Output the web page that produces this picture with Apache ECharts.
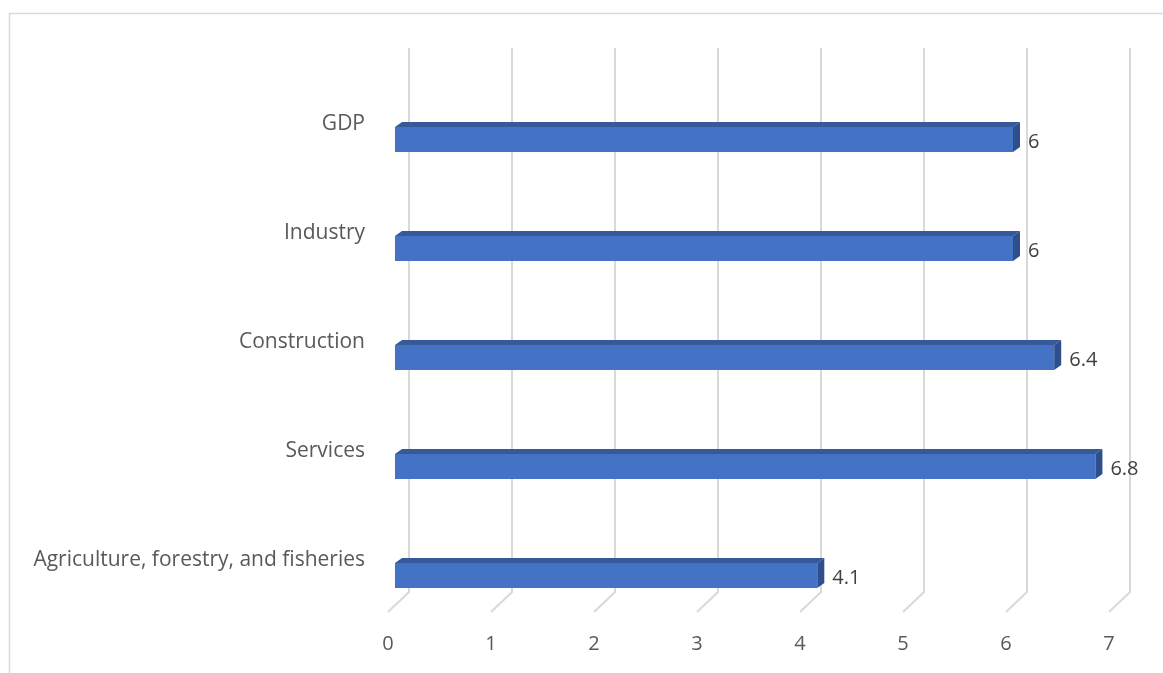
<!DOCTYPE html>
<html>
<head>
<meta charset="utf-8">
<script src="https://cdn.jsdelivr.net/npm/echarts@6/dist/echarts.min.js"></script>
<style>html,body{margin:0;padding:0;background:#fff}#c{width:1163px;height:673px}</style>
</head>
<body>
<div id="c"></div>
<script>
const categories = ['GDP', 'Industry', 'Construction', 'Services', 'Agriculture, forestry, and fisheries'];
const values = [6, 6, 6.4, 6.8, 4.1];
const xTicks = [0, 1, 2, 3, 4, 5, 6, 7];

const FONT = 'Open Sans';
const DX = 7, DY = 5;        // depth offset of the 3D bars
const BACK = 14, FRONT = -7; // back wall / front floor offsets
const chart = echarts.init(document.getElementById('c'));

chart.setOption({
  animation: false,
  backgroundColor: '#fff',
  graphic: [{
    type: 'rect', silent: true, z: -10,
    shape: { x: 9.5, y: 13.5, width: 1200, height: 700 },
    style: { fill: 'none', stroke: '#d9d9d9', lineWidth: 1.5 }
  }],
  grid: { left: 395, right: 47, top: 85, bottom: 43 },
  xAxis: {
    type: 'value', min: 0, max: 7, interval: 1,
    axisLine: { show: false }, axisTick: { show: false }, splitLine: { show: false },
    axisLabel: { color: '#595959', fontFamily: FONT, fontSize: 20, margin: 4, padding: [0, 14, 0, 0] }
  },
  yAxis: {
    type: 'category', data: categories, inverse: true,
    axisLine: { show: false }, axisTick: { show: false }, splitLine: { show: false },
    axisLabel: {
      margin: 30,
      formatter: function (v) { return '{a|' + v + '}\n{b|}'; },
      rich: {
        a: { color: '#595959', fontFamily: FONT, fontSize: 21, lineHeight: 26, align: 'right' },
        b: { lineHeight: 30, fontSize: 10 }
      }
    }
  },
  series: [
    {
      type: 'custom', z: 1, silent: true,
      data: xTicks.map(v => [v, 0]),
      renderItem: function (params, api) {
        const cs = params.coordSys;
        const x = api.coord([api.value(0), 0])[0];
        const topY = cs.y - 37;
        const backBot = cs.y + cs.height - 38;
        const frontBot = backBot + 20;
        return {
          type: 'polyline',
          shape: { points: [[x + BACK, topY], [x + BACK, backBot], [x + FRONT, frontBot]] },
          style: { stroke: '#d9d9d9', lineWidth: 2, fill: 'none' }
        };
      }
    },
    {
      type: 'custom', z: 2,
      data: values.map((v, i) => [v, i]),
      renderItem: function (params, api) {
        const p1 = api.coord([api.value(0), api.value(1)]);
        const p0 = api.coord([0, api.value(1)]);
        const h = 25;
        const x0 = p0[0], x1 = p1[0];
        const yT = p1[1] - h / 2, yB = p1[1] + h / 2;
        return {
          type: 'group',
          children: [
            { type: 'rect', shape: { x: x0, y: yT, width: x1 - x0, height: h }, style: { fill: '#4472c4' } },
            { type: 'polygon', shape: { points: [[x0, yT], [x0 + DX, yT - DY], [x1 + DX, yT - DY], [x1, yT]] }, style: { fill: '#36599a' } },
            { type: 'polygon', shape: { points: [[x1, yT], [x1 + DX, yT - DY], [x1 + DX, yB - DY], [x1, yB]] }, style: { fill: '#2f4f8c' } },
            { type: 'text', style: { text: String(api.value(0)), x: x1 + DX + 8, y: p1[1] + 3, align: 'left', verticalAlign: 'middle', fill: '#404040', font: '20px "' + FONT + '"' } }
          ]
        };
      }
    }
  ]
});
</script>
</body>
</html>
